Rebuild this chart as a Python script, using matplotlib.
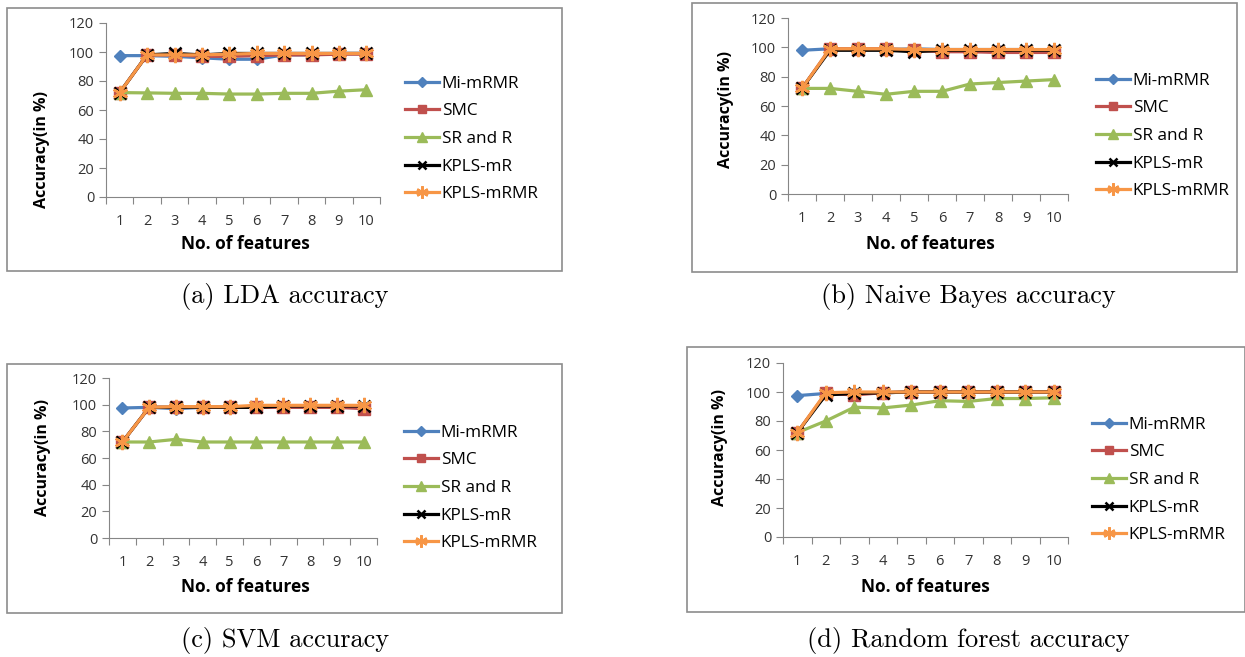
import numpy as np
import matplotlib
matplotlib.use('Agg')
import matplotlib.pyplot as plt
from matplotlib.patches import Rectangle

W, H = 1245, 657

features = list(range(1, 11))
methods = ['Mi-mRMR', 'SMC', 'SR and R', 'KPLS-mR', 'KPLS-mRMR']

# accuracy values (in %)
lda = {
    'Mi-mRMR':   [97.5, 97.5, 97, 96, 95, 95, 98, 98, 99, 99],
    'SMC':       [72, 98, 98, 97, 97, 97.5, 98, 98, 98.5, 98.5],
    'SR and R':  [72, 71.8, 71.5, 71.5, 71, 71, 71.5, 71.5, 73, 74],
    'KPLS-mR':   [72, 98, 99, 98, 99, 99, 99, 99, 99, 99],
    'KPLS-mRMR': [72, 98, 98, 98, 98.5, 99, 99, 99, 99, 99],
}
nb = {
    'Mi-mRMR':   [98, 99, 98.5, 98.5, 99, 98.5, 98.5, 98.5, 98.5, 98],
    'SMC':       [72, 99, 99, 99, 98, 97, 97, 96.5, 96.5, 96.5],
    'SR and R':  [72, 72, 70, 68, 70, 70, 75, 76, 77, 78],
    'KPLS-mR':   [72, 98, 98, 98, 97, 98, 98, 98, 98, 98],
    'KPLS-mRMR': [72, 99, 99, 99, 98.5, 98.5, 98.5, 98.5, 98.5, 98.5],
}
svm = {
    'Mi-mRMR':   [97.5, 98, 97, 98, 98, 98, 98, 98, 98, 98],
    'SMC':       [72, 98, 98, 98, 98, 98, 98, 98, 98, 97],
    'SR and R':  [72, 72, 74, 72, 72, 72, 72, 72, 72, 72],
    'KPLS-mR':   [72, 98, 98, 98, 98, 98, 99, 99, 99, 99],
    'KPLS-mRMR': [72, 98, 98.5, 98.5, 98.5, 99.5, 99.5, 99.5, 99.5, 99.5],
}
rf = {
    'Mi-mRMR':   [97.5, 99, 99, 99.5, 100, 100, 100, 100, 100, 100],
    'SMC':       [72, 99, 98, 99.5, 100, 100, 100, 100, 100, 100],
    'SR and R':  [72, 80, 89.5, 89, 91, 94, 93.5, 95.5, 95.5, 96],
    'KPLS-mR':   [72, 98, 99, 99.5, 100, 100, 100, 100, 100, 100],
    'KPLS-mRMR': [72, 99.5, 100, 100, 100, 100, 100, 100, 100, 100],
}
captions = ['(a) LDA accuracy', '(b) Naive Bayes accuracy',
            '(c) SVM accuracy', '(d) Random forest accuracy']

styles = {
    'Mi-mRMR':   dict(color='#4F81BD', marker='D', ms=6.5, mec='#4F81BD'),
    'SMC':       dict(color='#C0504D', marker='s', ms=8, mec='#C0504D'),
    'SR and R':  dict(color='#9BBB59', marker='^', ms=9, mec='#9BBB59'),
    'KPLS-mR':   dict(color='black', marker='x', ms=8, mew=1.8),
    'KPLS-mRMR': dict(color='#F79646', marker=(6, 2, 0), ms=11, mew=1.8),
}

sans = ['Open Sans', 'DejaVu Sans']
serif = ['cmr10', 'DejaVu Serif']


def fx(x):
    return x / W


def fy(y):
    return 1 - y / H


fig = plt.figure(figsize=(W / 100, H / 100), dpi=100)

# panel layouts in pixels: box, plot area, label/legend positions
panels = [
    dict(data=lda, box=(7, 8, 562, 271), plot=(106, 23, 380, 197),
         ylab=(42, 150), xlab=(245, 244), leg=(405, 139), cap=(285, 297)),
    dict(data=nb, box=(692, 3, 1237, 272), plot=(788, 18, 1068, 194),
         ylab=(726, 110), xlab=(930, 244), leg=(1096, 136), cap=(968, 297)),
    dict(data=svm, box=(7, 364, 562, 613), plot=(109, 378, 377, 538),
         ylab=(43, 458), xlab=(245, 587), leg=(404, 488), cap=(285, 640)),
    dict(data=rf, box=(687, 347, 1245, 612), plot=(783, 363, 1068, 537),
         ylab=(720, 448), xlab=(925, 587), leg=(1092, 480), cap=(968, 640)),
]

for p, cap in zip(panels, captions):
    x0, y0, x1, y1 = p['box']
    fig.patches.append(Rectangle((fx(x0), fy(y1)), fx(x1 - x0), (y1 - y0) / H,
                                 transform=fig.transFigure, fill=False,
                                 edgecolor='#8c8c8c', lw=1.2))
    l, t, r, b = p['plot']
    ax = fig.add_axes([fx(l), fy(b), fx(r - l), (b - t) / H])
    for m in methods:
        ax.plot(features, p['data'][m], lw=2.3, label=m, **styles[m])
    ax.set_xlim(0.5, 10.5)
    ax.set_ylim(0, 120)
    ax.set_yticks(range(0, 121, 20))
    ax.set_xticks(np.arange(0.5, 11, 1))
    ax.set_xticklabels([])
    ax.set_xticks(features, minor=True)
    ax.set_xticklabels([str(f) for f in features], minor=True)
    ax.tick_params(axis='x', which='minor', length=0, pad=12)
    ax.tick_params(axis='both', which='major', length=5, color='#868686')
    for lab in ax.get_xticklabels(minor=True) + ax.get_yticklabels():
        lab.set_family(sans)
        lab.set_fontsize(10.5)
        lab.set_color('#333333')
    for s in ['top', 'right']:
        ax.spines[s].set_visible(False)
    for s in ['left', 'bottom']:
        ax.spines[s].set_color('#868686')
    ax.patch.set_alpha(0)

    fig.text(fx(p['ylab'][0]), fy(p['ylab'][1]), 'Accuracy(in %)', rotation=90,
             ha='center', va='center', fontsize=11.5, fontweight='bold', family=sans)
    fig.text(fx(p['xlab'][0]), fy(p['xlab'][1]), 'No. of features',
             ha='center', va='center', fontsize=12.5, fontweight='bold', family=sans)
    ax.legend(loc='center left', bbox_to_anchor=(fx(p['leg'][0]), fy(p['leg'][1])),
              bbox_transform=fig.transFigure, frameon=False, handlelength=2.0,
              handletextpad=0.15, labelspacing=0.68, borderpad=0, borderaxespad=0,
              markerscale=0.8, prop=dict(family=sans, size=12.3))
    fig.text(fx(p['cap'][0]), fy(p['cap'][1]), cap, ha='center', va='center',
             fontsize=19, family=serif)

fig.savefig('out.png', dpi=100)
